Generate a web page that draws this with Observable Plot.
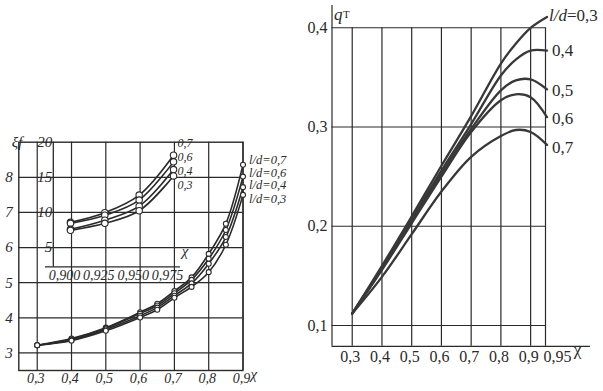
<!DOCTYPE html>
<html><head><meta charset="utf-8">
<script src="https://cdn.jsdelivr.net/npm/d3@7"></script>
<script src="https://cdn.jsdelivr.net/npm/@observablehq/plot@0.6"></script>
<style>
body{margin:0;background:#fff;}
#wrap{position:relative;width:603px;height:391px;overflow:hidden;background:#fff;}
#wrap svg{position:absolute;top:0;}
</style></head><body><div id="wrap"></div>
<script>
// ---------- left main panel: xi_f vs chi ----------
const chiMain = [0.3, 0.4, 0.5, 0.6, 0.65, 0.7, 0.75, 0.8, 0.85, 0.9];
const xiLd07 = [3.22, 3.41, 3.72, 4.16, 4.40, 4.76, 5.15, 5.82, 6.68, 8.36];
const xiLd06 = [3.22, 3.39, 3.70, 4.12, 4.35, 4.70, 5.08, 5.68, 6.50, 8.02];
const xiLd04 = [3.22, 3.37, 3.67, 4.06, 4.29, 4.63, 4.98, 5.54, 6.30, 7.72];
const xiLd03 = [3.22, 3.35, 3.63, 4.01, 4.23, 4.57, 4.88, 5.30, 6.08, 7.50];
const mainLd = ["0,7", "0,6", "0,4", "0,3"];
const mainXTicks = [0.3, 0.4, 0.5, 0.6, 0.7, 0.8, 0.9];
const mainYTicks = [3, 4, 5, 6, 7, 8];

// ---------- inset: chi 0.900 ... 0.975 ----------
const chiInset = [0.900, 0.925, 0.950, 0.975];
const insLd07 = [8.60, 9.96, 12.47, 18.15];
const insLd06 = [8.45, 9.60, 11.76, 17.20];
const insLd04 = [7.60, 8.90, 10.90, 16.10];
const insLd03 = [7.45, 8.45, 10.24, 15.20];
const insetXTicks = [0.900, 0.925, 0.950, 0.975];
const insetYTicks = [5, 10, 15, 20];

// ---------- right panel: q_T vs chi ----------
const chiQ = [0.3, 0.4, 0.5, 0.6, 0.7, 0.8, 0.85, 0.9, 0.955];
const qLd03 = [0.112, 0.160, 0.210, 0.261, 0.311, 0.364, 0.384, 0.400, 0.411];
const qLd04 = [0.112, 0.158, 0.207, 0.256, 0.303, 0.352, 0.368, 0.377, 0.377];
const qLd05 = [0.112, 0.157, 0.205, 0.253, 0.298, 0.337, 0.347, 0.348, 0.338];
const qLd06 = [0.112, 0.156, 0.203, 0.250, 0.295, 0.327, 0.333, 0.330, 0.310];
const qLd07 = [0.112, 0.149, 0.192, 0.235, 0.270, 0.291, 0.297, 0.295, 0.282];
const qLd = ["0,3", "0,4", "0,5", "0,6", "0,7"];
const rightXTicks = [0.3, 0.4, 0.5, 0.6, 0.7, 0.8, 0.9, 0.95];
const rightYTicks = [0.1, 0.2, 0.3, 0.4];

const comma = d => String(d).replace(".", ",");
const comma3 = d => d3.format(".3f")(d).replace(".", ",");
const rows = (xs, series, names, yk) => {
  const out = [];
  series.forEach((arr, i) => arr.forEach((v, j) => out.push({ld: names[i], chi: xs[j], [yk]: v})));
  return out;
};
const mainRows = rows(chiMain, [xiLd07, xiLd06, xiLd04, xiLd03], mainLd, "xi");
const insetRows = rows(chiInset, [insLd07, insLd06, insLd04, insLd03], mainLd, "xi");
const qRows = rows(chiQ, [qLd03, qLd04, qLd05, qLd06, qLd07], qLd, "q");
const lastOf = (rs) => mainLd.map(n => rs.filter(r => r.ld === n).slice(-1)[0]);

const INK = "#2a2a2a";
const FONT = "'Liberation Serif', 'DejaVu Serif', serif";
const wrap = document.getElementById("wrap");

// ---- left main plot ----
const mainLast = lastOf(mainRows);
const mainDy = [-4.5, -3.9, -2, 3.8];
const left = Plot.plot({
  width: 300, height: 391,
  marginLeft: 18.3, marginRight: 57.5, marginTop: 141.7, marginBottom: 21,
  x: {domain: [0.2463, 0.9], label: null},
  y: {domain: [2.5, 9], label: null},
  style: {fontFamily: FONT, background: "transparent", color: INK, overflow: "visible"},
  marks: [
    Plot.gridX(mainXTicks, {stroke: INK, strokeOpacity: 1, strokeWidth: 1.2}),
    Plot.gridY(mainYTicks, {stroke: INK, strokeOpacity: 1, strokeWidth: 1.2}),
    Plot.frame({stroke: INK, strokeWidth: 1.4}),
    Plot.axisX(mainXTicks, {tickSize: 0, tickPadding: 3, dx: -1.5, tickFormat: comma, fontSize: 14, fontStyle: "italic", label: null}),
    Plot.axisY(mainYTicks, {tickSize: 0, tickPadding: 6, fontSize: 15, fontStyle: "italic", label: null}),
    Plot.text(["χ"], {frameAnchor: "bottom-right", dx: 14, dy: 8, fontSize: 15, fontStyle: "italic", fill: INK}),
    Plot.text(["ξf"], {frameAnchor: "top-left", dx: -7, dy: -6, fontSize: 15, fontStyle: "italic", fill: INK}),
    Plot.line(mainRows, {x: "chi", y: "xi", z: "ld", curve: "catmull-rom", stroke: INK, strokeWidth: 1.6}),
    Plot.dot(mainRows, {x: "chi", y: "xi", r: 2.5, fill: "white", stroke: INK, strokeWidth: 1.1}),
    ...mainLast.map((d, i) => Plot.text([d], {x: "chi", y: "xi", text: r => "l/d=" + r.ld, textAnchor: "start", dx: 6, dy: mainDy[i], fontSize: 12.5, fontStyle: "italic", fill: INK}))
  ]
});
left.style.left = "0px";
wrap.appendChild(left);

// ---- inset plot (overlaid on the same grid) ----
const insetLast = lastOf(insetRows);
const insetDy = [-11.7, -4.4, 1.9, 9.6];
const inset = Plot.plot({
  width: 300, height: 391,
  marginLeft: 52.8, marginRight: 120.1, marginTop: 141.7, marginBottom: 124.6,
  x: {domain: [0.8875, 0.98], label: null},
  y: {domain: [2.25, 20], label: null},
  style: {fontFamily: FONT, background: "transparent", color: INK, overflow: "visible"},
  marks: [
    Plot.ruleX([0.8875], {stroke: INK, strokeWidth: 1.3}),
    Plot.ruleY([2.25], {x1: 0.8818, x2: 0.98, stroke: INK, strokeWidth: 1.3}),
    Plot.axisX(insetXTicks, {tickSize: 0, tickPadding: 3, dx: -6, tickFormat: comma3, fontSize: 14, fontStyle: "italic", label: null}),
    Plot.axisY(insetYTicks, {tickSize: 0, tickPadding: 1, fontSize: 15, fontStyle: "italic", label: null}),
    Plot.text(["χ"], {frameAnchor: "bottom-right", dx: 8, dy: -11, fontSize: 15, fontStyle: "italic", fill: INK}),
    Plot.line(insetRows, {x: "chi", y: "xi", z: "ld", curve: "catmull-rom", stroke: INK, strokeWidth: 1.6}),
    Plot.dot(insetRows, {x: "chi", y: "xi", r: 3.2, fill: "white", stroke: INK, strokeWidth: 1.1}),
    ...insetLast.map((d, i) => Plot.text([d], {x: "chi", y: "xi", text: "ld", textAnchor: "start", dx: 4, dy: insetDy[i], fontSize: 12, fontStyle: "italic", fill: INK}))
  ]
});
inset.style.left = "0px";
wrap.appendChild(inset);

// ---- right plot ----
const qLast = qLd.map(n => qRows.filter(r => r.ld === n).slice(-1)[0]);
const qDy = [0, -0.4, 0.9, 1.4, 2.5];
const right = Plot.plot({
  width: 303, height: 391,
  marginLeft: 31.5, marginRight: 13.1, marginTop: 5, marginBottom: 45.2,
  x: {domain: [0.232, 1.101], label: null},
  y: {domain: [0.079, 0.4225], label: null},
  style: {fontFamily: FONT, background: "transparent", color: INK, overflow: "visible"},
  marks: [
    Plot.ruleX(rightXTicks, {y1: 0.079, y2: 0.4, stroke: INK, strokeWidth: 1.2}),
    Plot.ruleY(rightYTicks, {x1: 0.232, x2: 0.95, stroke: INK, strokeWidth: 1.1}),
    Plot.ruleX([0.232], {stroke: INK, strokeWidth: 1.2}),
    Plot.ruleY([0.079], {stroke: INK, strokeWidth: 1.2}),
    Plot.axisX(rightXTicks.slice(0, -1), {tickSize: 0, tickPadding: 4, dx: -2, tickFormat: comma, fontSize: 16, label: null}),
    Plot.axisX(rightXTicks.slice(-1), {tickSize: 0, tickPadding: 4, dx: -2, textAnchor: "start", tickFormat: comma, fontSize: 16, label: null}),
    Plot.axisY(rightYTicks, {tickSize: 0, tickPadding: 4.5, tickFormat: comma, fontSize: 16, label: null}),
    Plot.text(["χ"], {frameAnchor: "bottom-right", dx: -9, dy: 9, fontSize: 17, fill: INK}),
    Plot.text(["q"], {frameAnchor: "top-left", dx: 2, dy: 2, textAnchor: "start", fontSize: 17, fontStyle: "italic", fill: INK}),
    Plot.text(["T"], {frameAnchor: "top-left", dx: 11, dy: 5, textAnchor: "start", fontSize: 11, fill: INK}),
    Plot.line(qRows, {x: "chi", y: "q", z: "ld", curve: "catmull-rom", stroke: "#383838", strokeWidth: 2.3}),
    Plot.text([qLast[0]], {x: "chi", y: "q", text: () => "l/d", textAnchor: "start", dx: 2, dy: -1.7, fontSize: 17, fontStyle: "italic", fill: INK}),
    Plot.text([qLast[0]], {x: "chi", y: "q", text: r => "=" + r.ld, textAnchor: "start", dx: 20, dy: -1.7, fontSize: 17, fill: INK}),
    ...qLast.slice(1).map((d, i) => Plot.text([d], {x: "chi", y: "q", text: "ld", textAnchor: "start", dx: 5, dy: qDy[i + 1], fontSize: 17, fill: INK}))
  ]
});
right.style.left = "300px";
wrap.appendChild(right);
</script>
</body></html>
